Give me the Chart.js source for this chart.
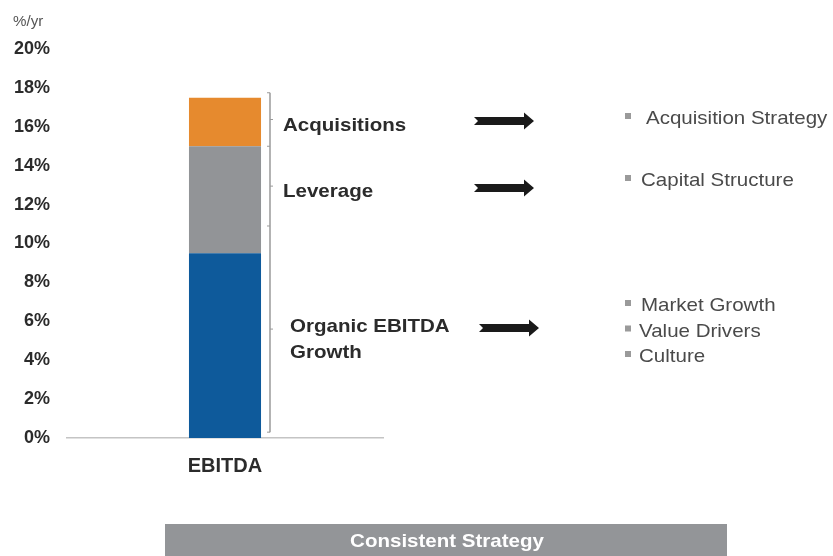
<!DOCTYPE html>
<html>
<head>
<meta charset="utf-8">
<script src="https://cdn.jsdelivr.net/npm/chart.js@4.4.0/dist/chart.umd.min.js"></script>
<style>
  html, body { margin: 0; padding: 0; background: #fff; }
  #wrap { width: 833px; height: 556px; position: relative; }
</style>
</head>
<body>
<div id="wrap"><canvas id="ebitdaChart" width="833" height="556"></canvas></div>
<script>
// Dane wykresu
const categories = ["EBITDA"];
const organicGrowth = [9.5];
const leverage = [5.5];
const acquisitions = [2.5];
const yMax = 20;
const yStep = 2;

// Klamry i opisy po prawej stronie (granice w % na osi Y)
const braceStops = [17.75, 15, 10.9, 0.3];
const driverLabels = [["Acquisitions"], ["Leverage"], ["Organic EBITDA", "Growth"]];
const strategyBullets = [
  ["Acquisition Strategy"],
  ["Capital Structure"],
  ["Market Growth", "Value Drivers", "Culture"]
];

const FONT = "'Liberation Sans', Arial, sans-serif";
const STRETCH = 1.08; // tekst w oryginale jest lekko poszerzony w poziomie

// Tekst rozciągnięty w poziomie
function wideText(ctx, text, x, y, sx, align) {
  ctx.save();
  ctx.translate(x, y);
  ctx.scale(sx, 1);
  ctx.textAlign = align || "left";
  ctx.fillText(text, 0, 0);
  ctx.restore();
}

// Rysuje strzałkę z wciętym ogonem
function drawArrow(ctx, x1, x2, y) {
  ctx.save();
  ctx.fillStyle = "#1a1a1a";
  ctx.beginPath();
  ctx.moveTo(x1, y - 4);
  ctx.lineTo(x2 - 10, y - 4);
  ctx.lineTo(x2 - 10, y - 8.5);
  ctx.lineTo(x2, y);
  ctx.lineTo(x2 - 10, y + 8.5);
  ctx.lineTo(x2 - 10, y + 4);
  ctx.lineTo(x1, y + 4);
  ctx.lineTo(x1 + 4, y);
  ctx.closePath();
  ctx.fill();
  ctx.restore();
}

const annotations = {
  id: "annotations",
  afterDraw(chart) {
    const ctx = chart.ctx;
    const y = chart.scales.y;
    ctx.save();
    ctx.textBaseline = "middle";

    // %/yr
    ctx.fillStyle = "#555";
    ctx.font = "14px " + FONT;
    wideText(ctx, "%/yr", 13, 22, 1.08);

    // Klamry
    const bx = 270;
    ctx.strokeStyle = "#9a9a9a";
    ctx.lineWidth = 1.5;
    ctx.beginPath();
    ctx.moveTo(bx, y.getPixelForValue(braceStops[0]));
    ctx.lineTo(bx, y.getPixelForValue(braceStops[braceStops.length - 1]));
    ctx.stroke();
    ctx.lineWidth = 1;
    for (let i = 0; i < braceStops.length; i++) {
      const py = y.getPixelForValue(braceStops[i]);
      ctx.beginPath();
      ctx.moveTo(bx - 3, py);
      ctx.lineTo(bx, py);
      ctx.stroke();
    }

    // Środki segmentów
    for (let i = 0; i < braceStops.length - 1; i++) {
      const m = (y.getPixelForValue(braceStops[i]) + y.getPixelForValue(braceStops[i + 1])) / 2;
      ctx.beginPath();
      ctx.moveTo(bx, m);
      ctx.lineTo(bx + 3, m);
      ctx.stroke();
    }

    // Etykiety czynników
    ctx.fillStyle = "#2b2b2b";
    ctx.font = "bold 19px " + FONT;
    const labelX = [283, 283, 290];
    const labelY = [126, 192, 327];
    driverLabels.forEach((lines, i) => {
      lines.forEach((t, j) => wideText(ctx, t, labelX[i], labelY[i] + j * 26, STRETCH));
    });

    // Strzałki
    drawArrow(ctx, 474, 534, 121);
    drawArrow(ctx, 474, 534, 188);
    drawArrow(ctx, 479, 539, 328);

    // Punkty strategii
    ctx.font = "19px " + FONT;
    const bulletY = [119, 181, 306];
    const textX = [646, 641, 641];
    strategyBullets.forEach((lines, i) => {
      lines.forEach((t, j) => {
        const py = bulletY[i] + j * 25.5;
        ctx.fillStyle = "#9a9a9a";
        ctx.fillRect(625, py - 6, 6, 6);
        ctx.fillStyle = "#4a4a4a";
        wideText(ctx, t, i === 2 && j > 0 ? 639 : textX[i], py, STRETCH);
      });
    });

    // Pasek na dole
    ctx.fillStyle = "#939598";
    ctx.fillRect(165, 524, 562, 32);
    ctx.fillStyle = "#ffffff";
    ctx.font = "bold 19px " + FONT;
    wideText(ctx, "Consistent Strategy", 447, 542, STRETCH, "center");

    ctx.restore();
  }
};

const ctx = document.getElementById("ebitdaChart").getContext("2d");
new Chart(ctx, {
  type: "bar",
  data: {
    labels: categories,
    datasets: [
      { label: "Organic EBITDA Growth", data: organicGrowth, backgroundColor: "#0e5a9b" },
      { label: "Leverage", data: leverage, backgroundColor: "#929497" },
      { label: "Acquisitions", data: acquisitions, backgroundColor: "#e68a2e" }
    ]
  },
  options: {
    responsive: false,
    animation: false,
    layout: { padding: { top: 49, right: 450, left: 0, bottom: 0 } },
    datasets: {
      bar: { categoryPercentage: 1, barPercentage: 0.228, borderWidth: 0 }
    },
    plugins: {
      legend: { display: false },
      tooltip: { enabled: false }
    },
    scales: {
      x: {
        stacked: true,
        grid: { display: false },
        border: { display: true, color: "#c4c4c4", width: 1.5 },
        ticks: {
          color: "#2b2b2b",
          font: { family: FONT, size: 20, weight: "bold" },
          padding: 8
        },
        afterFit(scale) { scale.height = 118; }
      },
      y: {
        stacked: true,
        min: 0,
        max: yMax,
        grid: { display: false },
        border: { display: false },
        ticks: {
          stepSize: yStep,
          color: "#2b2b2b",
          padding: 9,
          font: { family: FONT, size: 18, weight: "bold" },
          callback: v => v + "%"
        },
        afterFit(scale) { scale.width = 67; }
      }
    }
  },
  plugins: [annotations]
});
</script>
</body>
</html>
